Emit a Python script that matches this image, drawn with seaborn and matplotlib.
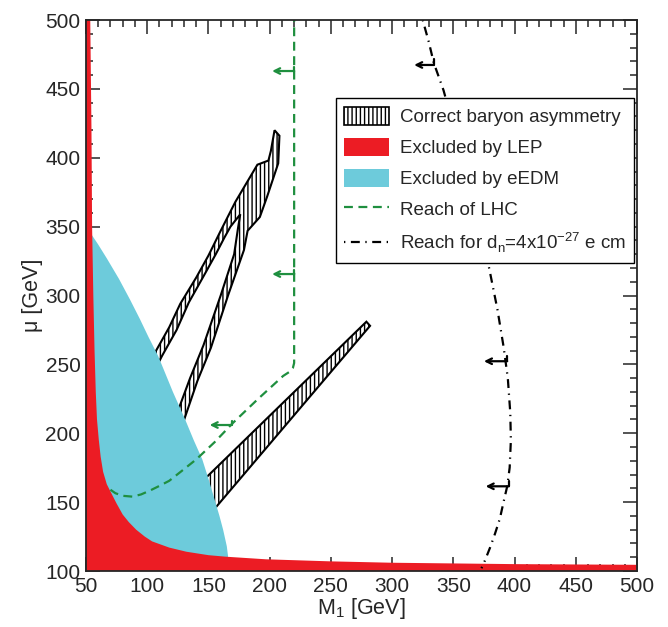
import matplotlib
matplotlib.use('Agg')
import matplotlib.pyplot as plt
import seaborn as sns
import pandas as pd
from matplotlib.patches import Patch
from matplotlib.lines import Line2D
from matplotlib.ticker import MultipleLocator

# --- dati (M1, mu in GeV) ---
# regione esclusa da LEP (bordo superiore)
lep_m1 = [53.5, 54.5, 55, 56, 57, 58, 59, 60.5, 62, 64, 67, 70.4, 75, 80, 85, 91, 98, 104, 118, 132, 150, 164, 197, 250, 300, 400, 500]
lep_mu = [500, 420, 350, 300, 260, 230, 210, 195, 183, 172, 163, 157, 149, 141, 135.5, 130, 125, 121.5, 117, 114, 111.5, 110.4, 108.5, 107, 106, 105, 104.5]

# regione esclusa da eEDM (bordo destro)
edm_m1 = [54, 60, 67, 77, 86, 94, 101, 109, 115, 121, 131, 138, 145, 150, 155, 159, 162, 165, 166]
edm_mu = [345, 337, 327, 312, 297, 283, 270, 256, 243, 230, 210, 195, 181, 167, 152, 140, 130, 118, 111]

# bande di asimmetria barionica corretta
band_a_m1 = [101.4, 106, 118, 127, 140, 150, 160, 172, 184, 190, 199, 201, 204, 208, 207, 198, 192, 182, 179, 166, 152, 141, 131, 127,
             121, 125, 135, 146, 160, 171, 174, 176, 168, 163, 156, 146, 134, 124, 112, 106.9]
band_a_mu = [250, 258, 277, 294, 313, 329, 347, 368, 386, 395, 398, 405, 420, 416, 396, 372, 357, 347, 333, 300, 262, 238, 212, 201,
             205, 216, 240, 264, 300, 330, 348, 359, 350, 342, 330, 314, 295, 275, 256, 247]
band_b_m1 = [146, 279, 282, 152]
band_b_mu = [166, 281, 278, 142]

# raggiungibilità LHC
lhc_m1 = [70, 74, 80, 88, 95, 102, 110, 118, 128, 140, 155, 170, 190, 211, 216, 219, 220, 220]
lhc_mu = [159, 156.5, 154.6, 154, 155.6, 158.3, 161.8, 165.5, 172.5, 181, 193.5, 207.5, 224.5, 241.6, 244.5, 247.5, 251, 500]

# raggiungibilità d_n = 4x10^-27 e cm
dn_m1 = [325, 330, 334, 338, 342, 351, 360, 370, 379, 386, 391, 394.5, 396.5, 397, 396, 394, 391, 388, 384, 380, 376, 373]
dn_mu = [500, 484, 469, 459, 449, 420, 390, 354, 321, 290, 263, 240, 215, 195, 175, 161.5, 150, 138, 127, 117, 108, 102]

# frecce (x coda, x punta, y)
green_arrows = [(220, 202, 463), (220, 202, 315.6), (169, 151, 206)]
black_arrows = [(334, 318, 467.4), (394, 375, 252.3), (395.4, 376.4, 161.5)]

red = '#ec1c24'
cyan = '#6dcbdb'
green = '#1f8f3f'

sns.set_style('ticks')
plt.rcParams['font.family'] = ['Liberation Sans', 'DejaVu Sans']
plt.rcParams['mathtext.fontset'] = 'custom'
plt.rcParams['mathtext.rm'] = 'Liberation Sans'
plt.rcParams['hatch.linewidth'] = 1.0

fig = plt.figure(figsize=(6.68, 6.27), dpi=100)
ax = fig.add_axes([0.1287, 0.0893, 0.8249, 0.8787])

# bande tratteggiate
ax.fill(band_a_m1, band_a_mu, facecolor='white', edgecolor='black', hatch='||||', lw=1.5, zorder=1)
ax.fill(band_b_m1, band_b_mu, facecolor='white', edgecolor='black', hatch='||||', lw=1.5, zorder=1)

# eEDM
ax.fill(edm_m1 + [166, 54], edm_mu + [100, 100], color=cyan, lw=0, zorder=2)
# LEP
ax.fill([50] + lep_m1 + [500, 50], [500] + lep_mu + [100, 100], color=red, lw=0, zorder=3)

lhc = pd.DataFrame({'M1': lhc_m1, 'mu': lhc_mu})
dn = pd.DataFrame({'M1': dn_m1, 'mu': dn_mu})
sns.lineplot(data=lhc, x='M1', y='mu', sort=False, estimator=None, color=green, lw=1.6,
             ax=ax, zorder=4).lines[-1].set_dashes((4, 2.5))
sns.lineplot(data=dn, x='M1', y='mu', sort=False, estimator=None, color='black', lw=1.6,
             ax=ax, zorder=4).lines[-1].set_dashes((0.6, 2.5, 4, 2.5))

for x0, x1, y in green_arrows:
    ax.plot([x0, x0], [y + 3, y], color=green, lw=1.6, zorder=4)
    ax.annotate('', xy=(x1, y), xytext=(x0, y),
                arrowprops=dict(arrowstyle='->', color=green, lw=1.6, shrinkA=0, shrinkB=0), zorder=4)
for x0, x1, y in black_arrows:
    ax.plot([x0, x0], [y + 4, y], color='black', lw=1.6, zorder=4)
    ax.annotate('', xy=(x1, y), xytext=(x0, y),
                arrowprops=dict(arrowstyle='->', color='black', lw=1.6, shrinkA=0, shrinkB=0), zorder=4)

ax.set_xlim(50, 500)
ax.set_ylim(100, 500)
ax.xaxis.set_major_locator(MultipleLocator(50))
ax.yaxis.set_major_locator(MultipleLocator(50))
ax.xaxis.set_minor_locator(MultipleLocator(10))
ax.yaxis.set_minor_locator(MultipleLocator(10))
ax.tick_params(which='both', direction='in', top=True, right=True, labelsize=15, width=1.1)
ax.tick_params(which='major', length=10, pad=4)
ax.tick_params(which='minor', length=5)
for s in ax.spines.values():
    s.set_linewidth(1.3)
    s.set_zorder(6)

ax.set_xlabel('M$_\\mathregular{1}$ [GeV]', fontsize=15.5, labelpad=0)
ax.set_ylabel('μ [GeV]', fontsize=15.5, labelpad=2)

handles = [
    Patch(facecolor='white', edgecolor='black', hatch='||||', lw=1.2),
    Patch(facecolor=red, edgecolor='none'),
    Patch(facecolor=cyan, edgecolor='none'),
    Line2D([], [], color=green, lw=1.6, dashes=(4, 2.5)),
    Line2D([], [], color='black', lw=1.6, dashes=(0.6, 2.5, 4, 2.5)),
]
labels = ['Correct baryon asymmetry', 'Excluded by LEP', 'Excluded by eEDM', 'Reach of LHC',
          'Reach for d$_\\mathregular{n}$=4x10$^\\mathregular{-27}$ e cm']
leg = ax.legend(handles, labels, loc='upper right', bbox_to_anchor=(0.995, 0.858), fontsize=13.5,
                frameon=True, fancybox=False, framealpha=1, edgecolor='black', handlelength=2.4,
                handleheight=1.1, labelspacing=0.62, borderpad=0.45, handletextpad=0.55, borderaxespad=0)
leg.get_frame().set_linewidth(1.0)
leg.set_zorder(7)

fig.savefig('out.png', dpi=100)
